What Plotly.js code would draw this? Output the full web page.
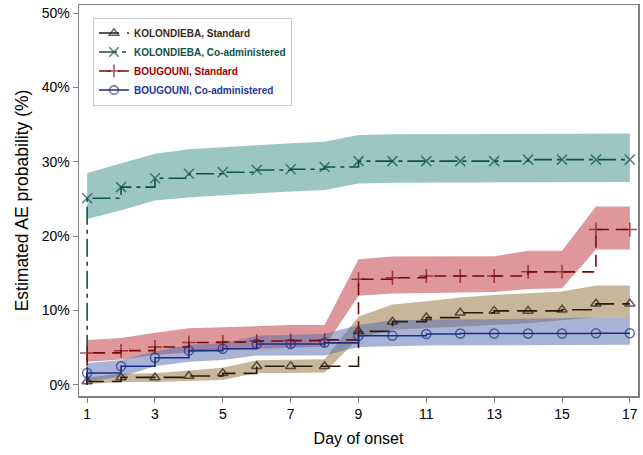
<!DOCTYPE html>
<html>
<head>
<meta charset="utf-8">
<script src="https://cdn.plot.ly/plotly-3.0.1.min.js"></script>
<style>html,body{margin:0;padding:0;background:#fff;}#chart{width:643px;height:455px;}</style>
</head>
<body>
<div id="chart"></div>
<script>
// Day of onset
const days = [1,2,3,4,5,6,7,8,9,10,11,12,13,14,15,16,17];
const xTicks = [1,3,5,7,9,11,13,15,17];
const yTicks = [0,10,20,30,40,50];

// KOLONDIEBA, Standard
const kolStd   = [0.45,1.0,1.0,1.2,1.55,2.5,2.5,2.5,7.2,8.5,9.05,9.7,9.95,9.95,10.1,10.9,10.9];
const kolStdLo = [0.1,0.4,0.4,0.5,0.65,1.6,1.6,1.65,6.3,7.4,7.6,7.85,8.05,8.3,8.7,9.1,9.1];
const kolStdHi = [1.0,1.5,1.55,1.9,2.3,3.3,3.4,3.45,9.2,10.8,11.25,11.75,12.1,12.3,12.55,13.35,13.35];

// KOLONDIEBA, Co-administered
const kolCo   = [25.1,26.6,27.8,28.4,28.6,28.9,29.0,29.3,30.1,30.1,30.1,30.1,30.1,30.3,30.3,30.3,30.3];
const kolCoLo = [22.3,23.5,24.8,25.2,25.5,25.8,26.0,26.2,27.1,27.2,27.2,27.2,27.2,27.25,27.25,27.3,27.3];
const kolCoHi = [28.5,29.8,31.1,31.7,32.0,32.3,32.5,32.7,33.6,33.7,33.7,33.7,33.75,33.75,33.8,33.8,33.8];

// BOUGOUNI, Standard
const bouStd   = [4.3,4.6,5.1,5.7,5.75,5.9,5.95,6.05,14.2,14.4,14.65,14.65,14.65,15.2,15.2,20.9,20.9];
const bouStdLo = [3.1,3.4,4.0,4.35,4.7,4.9,5.0,5.15,12.0,12.3,12.3,12.4,12.5,12.9,13.0,18.2,18.2];
const bouStdHi = [6.05,6.3,7.0,7.6,7.75,7.9,8.05,8.05,16.9,17.25,17.25,17.3,17.3,18.05,18.05,24.0,24.0];

// BOUGOUNI, Co-administered
const bouCo   = [1.6,2.5,3.65,4.6,4.85,5.5,5.5,5.65,6.6,6.6,6.85,6.9,6.9,6.9,6.9,6.95,6.95];
const bouCoLo = [0.45,1.1,2.5,3.1,3.35,3.95,3.95,3.95,5.1,5.2,5.3,5.35,5.35,5.4,5.4,5.4,5.4];
const bouCoHi = [2.9,3.35,4.5,5.4,5.6,6.6,6.75,6.85,8.05,8.7,8.75,8.8,8.8,8.85,8.95,9.1,9.1];

const names = ['KOLONDIEBA, Standard','KOLONDIEBA, Co-administered','BOUGOUNI, Standard','BOUGOUNI, Co-administered'];

const series = [
  {name:names[0], y:kolStd, lo:kolStdLo, hi:kolStdHi, line:'#2b1a0c', text:'#3d2a16', band:'rgba(145,109,55,0.5)', sym:'triangle-up-open', size:9, dash:'20px,8px'},
  {name:names[1], y:kolCo, lo:kolCoLo, hi:kolCoHi, line:'#0f5248', text:'#0f5248', band:'rgba(55,141,135,0.5)', sym:'x-thin-open', size:10, dash:'18px,5px,4px,5px'},
  {name:names[2], y:bouStd, lo:bouStdLo, hi:bouStdHi, line:'#7a0a0a', text:'#a00000', band:'rgba(189,49,57,0.5)', sym:'cross-thin-open', size:10, dash:'12px,7px'},
  {name:names[3], y:bouCo, lo:bouCoLo, hi:bouCoHi, line:'#1e2c80', text:'#24349a', band:'rgba(81,105,173,0.5)', sym:'circle-open', size:9, dash:'solid'}
];

const traces = [];
// bands first
series.forEach(s => {
  traces.push({
    x: days.concat(days.slice().reverse()),
    y: s.hi.concat(s.lo.slice().reverse()),
    fill: 'toself', fillcolor: s.band, mode: 'lines', line: {width: 0},
    showlegend: false, hoverinfo: 'skip', type: 'scatter'
  });
});
// step lines with markers (start from zero at first day)
series.forEach(s => {
  const sizes = [0].concat(days.map(() => s.size));
  traces.push({
    x: [days[0]].concat(days),
    y: [0].concat(s.y),
    mode: 'lines+markers',
    line: {shape: 'hv', color: s.line, width: 1.6, dash: s.dash},
    marker: {symbol: s.sym, size: sizes, color: s.line, line: {width: 1.5, color: s.line}},
    name: '<b><span style="color:' + s.text + '">' + s.name + '</span></b>',
    type: 'scatter'
  });
});

const layout = {
  width: 643, height: 455,
  margin: {l: 79, r: 5, t: 5, b: 59},
  paper_bgcolor: '#ffffff', plot_bgcolor: '#ffffff',
  font: {family: 'Liberation Sans, Arial, sans-serif', color: '#000'},
  showlegend: true,
  legend: {
    x: 0.025, y: 0.968, xanchor: 'left', yanchor: 'top',
    bgcolor: '#ffffff', bordercolor: '#c8c8c8', borderwidth: 1,
    font: {size: 10, family: 'Liberation Sans, Arial, sans-serif'},
    tracegroupgap: 0, itemwidth: 30
  },
  xaxis: {
    range: [0.76, 17.24], tickvals: xTicks, ticktext: xTicks.map(String),
    showgrid: false, zeroline: false, showline: true, linecolor: '#808080', linewidth: 1.5,
    mirror: true, ticks: 'outside', ticklen: 5, tickcolor: '#808080',
    tickfont: {size: 14},
    title: {text: 'Day of onset', font: {size: 16}, standoff: 11}
  },
  yaxis: {
    range: [-1.5, 51.1], tickvals: yTicks, ticktext: yTicks.map(v => v + '%'),
    showgrid: false, zeroline: false, showline: true, linecolor: '#808080', linewidth: 1.5,
    mirror: true, ticks: 'outside', ticklen: 5, tickcolor: '#808080',
    tickfont: {size: 14},
    title: {text: 'Estimated AE probability (%)', font: {size: 17.5}, standoff: 8}
  }
};

Plotly.newPlot('chart', traces, layout, {displayModeBar: false, staticPlot: true});
</script>
</body>
</html>
